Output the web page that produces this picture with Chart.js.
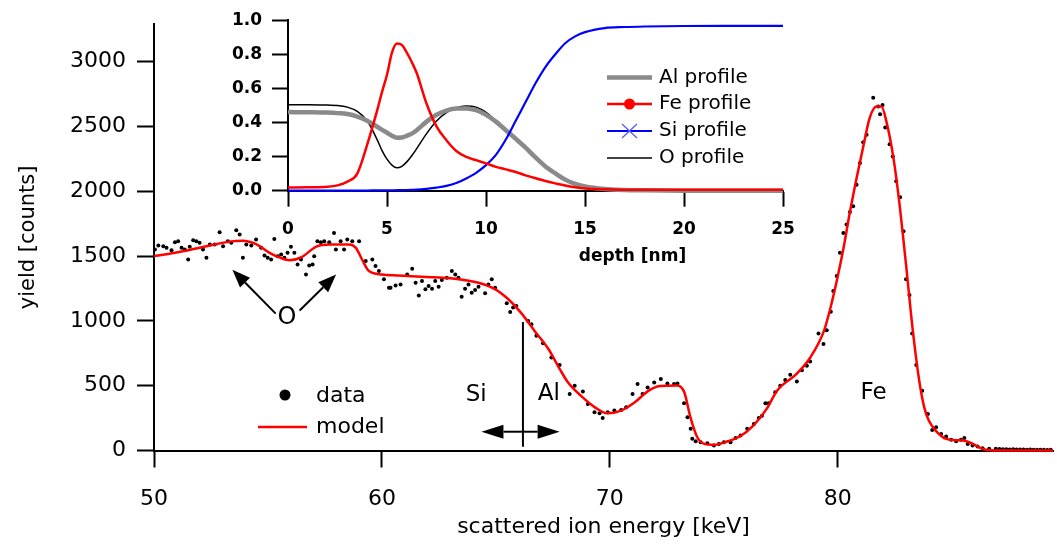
<!DOCTYPE html>
<html><head><meta charset="utf-8">
<script src="https://cdn.jsdelivr.net/npm/chart.js@4.4.1/dist/chart.umd.min.js"></script>
<style>
html,body{margin:0;padding:0;background:#fff;}
#wrap{position:relative;width:1057px;height:551px;}
canvas{position:absolute;left:0;top:0;}
</style></head><body>
<div id="wrap"><canvas id="main" width="1057" height="551"></canvas><canvas id="inset" width="1057" height="551"></canvas></div>
<script>
// ---------- main spectrum ----------
const xTicks = [50, 60, 70, 80];
const yTicks = [0, 500, 1000, 1500, 2000, 2500, 3000];

const dataE = [50.04,50.19,50.41,50.55,50.77,50.92,51.06,51.21,51.35,51.50,51.57,51.72,51.86,52.00,52.15,52.30,52.45,52.66,52.88,53.03,53.24,53.39,53.61,53.76,53.90,54.05,54.27,54.48,54.70,54.85,54.99,55.14,55.28,55.43,55.58,55.72,55.86,56.01,56.16,56.30,56.45,56.67,56.81,56.96,57.03,57.17,57.32,57.47,57.69,57.90,57.98,58.19,58.34,58.48,58.70,59.00,59.29,59.58,59.72,59.87,60.09,60.31,
60.38,60.60,60.82,61.11,61.33,61.48,61.62,61.76,61.91,62.05,62.20,62.34,62.49,62.63,62.85,63.07,63.22,63.36,63.50,63.65,63.80,63.94,64.09,64.24,64.53,64.67,64.82,64.97,65.48,65.63,65.76,65.90,66.42,66.56,66.78,67.07,67.44,67.80,
68.24,68.46,68.82,69.04,69.33,69.55,69.69,69.91,70.20,70.50,70.72,71.00,71.22,71.44,71.66,71.95,72.24,72.53,72.82,72.97,73.26,73.41,73.55,73.62,73.77,73.99,74.28,74.57,74.79,75.01,75.30,75.52,75.74,76.03,76.32,76.54,
76.68,76.83,76.97,77.26,77.48,77.70,77.92,78.21,78.43,78.65,78.79,79.16,79.38,79.52,79.70,79.81,79.96,80.10,80.25,80.39,80.54,80.68,80.83,80.98,81.12,81.27,81.56,81.78,81.86,81.97,82.09,82.28,82.42,82.57,82.74,82.89,83.00,83.15,83.27,
83.45,83.71,83.96,84.15,84.32,84.54,84.76,84.98,85.20,85.41,85.56,85.71,85.92,86.14,86.36,86.65,86.94,87.10,87.25,87.40,87.55,87.70,87.85,88.00,88.15,88.30,88.45,88.60,88.75,88.90,89.05,89.20,89.35];
const dataY = [1551,1582,1577,1564,1546,1608,1615,1564,1551,1474,1572,1623,1615,1603,1551,1487,1590,1590,1685,1577,1615,1603,1700,1667,1487,1590,1582,1628,1564,1505,1487,1474,1633,1500,1513,1487,1526,1572,1526,1436,1474,1359,1428,1436,1500,1615,1608,1615,1608,1679,1551,1615,1551,1628,1615,1615,1462,1474,1423,1385,1321,1256,
1256,1274,1282,1359,1403,1295,1197,1308,1244,1269,1249,1308,1264,1315,1333,1385,1359,1333,1187,1249,1282,1218,1238,1264,1213,1282,1321,1256,1136,1069,1103,1115,1000,974,885,828,718,659,
436,500,456,359,295,287,251,295,308,313,333,436,513,436,487,525,551,518,513,518,364,256,167,90,72,64,56,38,51,64,64,97,115,167,205,251,
269,364,364,449,500,544,585,533,620,654,687,902,821,928,1071,1231,1346,1526,1679,1744,1841,1885,2051,2218,2379,2436,2723,2654,2595,2667,2492,2364,2269,2077,1954,1692,1321,1200,902,
660,462,282,159,179,128,108,82,72,82,97,51,38,31,18,13,13,11,9,10,8,9,7,8,7,6,7,6,5,6,5,4,5];

const modelE = [50.0,50.55,51.27,52.45,53.3,53.9,54.5,55.07,55.5,55.94,56.5,57.1,57.7,58.56,58.86,59.13,59.43,60.0,60.74,61.75,63.2,64.24,64.98,65.55,66.1,66.7,67.3,67.8,68.17,68.73,69.35,69.9,70.5,71.1,71.66,72.2,72.97,73.27,73.54,73.84,74.15,74.6,75.15,75.7,76.3,76.9,77.34,78.2,78.8,79.4,79.65,79.96,80.26,80.52,80.83,81.14,81.4,81.7,81.92,82.14,82.45,82.7,83.0,83.3,83.58,83.8,84.0,84.3,84.76,85.2,85.65,85.94,86.2,86.5,87.0,89.45];
const modelY = [1500,1515,1538,1582,1612,1618,1590,1525,1490,1469,1495,1572,1590,1590,1564,1474,1385,1359,1351,1341,1326,1295,1244,1167,1064,923,785,630,525,423,333,287,308,372,456,497,502,449,256,102,51,44,69,108,192,325,462,592,718,923,1077,1308,1564,1823,2102,2359,2564,2654,2654,2538,2256,1923,1436,923,538,333,231,154,90,80,72,51,25,5,0,0];

// ---------- inset depth profiles ----------
const insetXTicks = [0, 5, 10, 15, 20, 25];
const insetYTicks = [0, 0.2, 0.4, 0.6, 0.8, 1.0];
const insetYTickLabels = ['0.0', '0.2', '0.4', '0.6', '0.8', '1.0'];
const depth = [0,1,2,2.5,3,3.5,4,4.5,4.75,5,5.25,5.5,5.75,6,6.25,6.5,7,7.5,8,8.5,9,9.5,10,10.5,11,11.5,12,12.5,13,13.5,14,14.5,15,16,17,18,20,22,25];
const alProfile = [0.461,0.46,0.458,0.455,0.45,0.435,0.41,0.375,0.357,0.34,0.322,0.311,0.312,0.322,0.335,0.355,0.405,0.445,0.47,0.482,0.482,0.472,0.445,0.405,0.355,0.305,0.252,0.195,0.142,0.102,0.065,0.04,0.025,0.01,0.004,0.002,0,0,0];
const feProfile = [0.019,0.02,0.023,0.031,0.053,0.1,0.27,0.47,0.58,0.68,0.81,0.864,0.855,0.81,0.755,0.69,0.51,0.377,0.296,0.233,0.198,0.179,0.16,0.14,0.125,0.11,0.09,0.073,0.057,0.043,0.03,0.02,0.013,0.008,0.006,0.005,0.005,0.005,0.005];
const siProfile = [0,0,0,0,0,0.001,0.001,0.002,0.002,0.002,0.002,0.003,0.003,0.004,0.005,0.006,0.011,0.018,0.028,0.045,0.072,0.105,0.15,0.21,0.3,0.41,0.52,0.63,0.725,0.8,0.865,0.905,0.93,0.954,0.96,0.963,0.966,0.967,0.967];
const oProfile = [0.504,0.504,0.502,0.5,0.49,0.465,0.41,0.3,0.235,0.185,0.15,0.134,0.143,0.169,0.205,0.247,0.335,0.409,0.458,0.487,0.497,0.49,0.46,0.41,0.357,0.307,0.254,0.197,0.144,0.104,0.067,0.042,0.027,0.012,0.005,0.003,0.001,0,0];

const FONT = 'DejaVu Sans';
Chart.defaults.font.family = FONT;
Chart.defaults.color = '#000';

function arrow(ctx, x1, y1, x2, y2, len, hw) {
  const a = Math.atan2(y2 - y1, x2 - x1);
  const bx = x2 - len * Math.cos(a), by = y2 - len * Math.sin(a);
  ctx.beginPath(); ctx.moveTo(x1, y1); ctx.lineTo(bx, by); ctx.stroke();
  ctx.beginPath(); ctx.moveTo(x2, y2);
  ctx.lineTo(bx + hw * Math.sin(a), by - hw * Math.cos(a));
  ctx.lineTo(bx - hw * Math.sin(a), by + hw * Math.cos(a));
  ctx.closePath(); ctx.fill();
}

const mainDecor = {
  id: 'mainDecor',
  afterDatasetsDraw(chart) {
    const {ctx, scales: {x, y}} = chart;
    const X = v => x.getPixelForValue(v), Y = v => y.getPixelForValue(v);
    ctx.save();
    ctx.fillStyle = '#000'; ctx.strokeStyle = '#000'; ctx.lineWidth = 2;
    ctx.font = '24px ' + FONT; ctx.textAlign = 'center'; ctx.textBaseline = 'middle';
    ctx.fillText('O', X(55.83), Y(1025));
    arrow(ctx, X(55.34), Y(1056), X(53.44), Y(1395), 18, 7);
    arrow(ctx, X(56.39), Y(1081), X(57.99), Y(1358), 18, 7);
    ctx.font = '23px ' + FONT;
    ctx.fillText('Si', X(64.14), Y(427));
    ctx.fillText('Al', X(67.33), Y(435));
    ctx.fillText('Fe', X(81.58), Y(442));
    ctx.beginPath(); ctx.moveTo(X(66.19), Y(991)); ctx.lineTo(X(66.19), Y(29)); ctx.stroke();
    const cx = X(66.19), yy = Y(145);
    arrow(ctx, cx, yy, X(64.37), yy, 22, 7);
    arrow(ctx, cx, yy, X(67.80), yy, 22, 7);
    ctx.restore();
  },
  afterDraw(chart) {
    const ctx = chart.ctx;
    ctx.save();
    ctx.fillStyle = '#000';
    ctx.beginPath(); ctx.arc(285, 395, 5.5, 0, Math.PI * 2); ctx.fill();
    ctx.strokeStyle = '#ff0000'; ctx.lineWidth = 2.5;
    ctx.beginPath(); ctx.moveTo(258, 427); ctx.lineTo(307, 427); ctx.stroke();
    ctx.font = '22px ' + FONT; ctx.textAlign = 'left'; ctx.textBaseline = 'middle';
    ctx.fillText('data', 316, 396);
    ctx.fillText('model', 316, 427);
    ctx.restore();
  }
};

new Chart(document.getElementById('main'), {
  type: 'scatter',
  data: {
    datasets: [
      {label: 'model', data: modelE.map((e, i) => ({x: e, y: modelY[i]})), showLine: true,
       borderColor: '#ff0000', borderWidth: 2.5, pointRadius: 0, cubicInterpolationMode: 'monotone', clip: false, order: 0},
      {label: 'data', data: dataE.map((e, i) => ({x: e, y: dataY[i]})), showLine: false,
       backgroundColor: '#000', borderColor: '#000', borderWidth: 0, pointRadius: 2, clip: false, order: 1}
    ]
  },
  options: {
    responsive: false, animation: false, devicePixelRatio: 1,
    layout: {padding: {left: 0, right: 0, top: 22.7, bottom: 0}},
    plugins: {legend: {display: false}, tooltip: {enabled: false}},
    scales: {
      x: {
        type: 'linear', min: 50, max: 89.45,
        afterBuildTicks: s => { s.ticks = xTicks.map(v => ({value: v})); },
        afterFit: s => { s.height = 100.5; },
        ticks: {font: {size: 22}, padding: 19, maxRotation: 0, autoSkip: false, callback: v => String(v)},
        grid: {drawOnChartArea: false, drawTicks: true, tickLength: 17, tickWidth: 2, tickColor: '#000'},
        border: {display: true, color: '#000', width: 2},
        title: {display: true, text: 'scattered ion energy [keV]', font: {size: 22}, padding: {top: 0, bottom: 10.8}}
      },
      y: {
        type: 'linear', min: 0, max: 3290,
        afterBuildTicks: s => { s.ticks = yTicks.map(v => ({value: v})); },
        afterFit: s => { s.width = 154; },
        ticks: {font: {size: 22}, padding: 11, autoSkip: false, callback: v => String(v)},
        grid: {drawOnChartArea: false, drawTicks: true, tickLength: 17, tickWidth: 2, tickColor: '#000'},
        border: {display: true, color: '#000', width: 2},
        title: {display: true, text: 'yield [counts]', font: {size: 21}, padding: {top: 16.4, bottom: 0}}
      }
    }
  },
  plugins: [mainDecor]
});

const insetDecor = {
  id: 'insetDecor',
  afterDraw(chart) {
    const ctx = chart.ctx;
    const {x} = chart.scales;
    ctx.save();
    ctx.fillStyle = '#000';
    ctx.font = 'bold 17px ' + FONT; ctx.textAlign = 'center'; ctx.textBaseline = 'middle';
    ctx.fillText('depth [nm]', x.getPixelForValue(17.4), 257);
    const rowY = [77.5, 104, 131, 158];
    chart.data.datasets.forEach((ds, i) => {
      const yy = rowY[i];
      ctx.strokeStyle = ds.borderColor; ctx.lineWidth = ds.borderWidth;
      ctx.beginPath(); ctx.moveTo(607, yy); ctx.lineTo(652, yy); ctx.stroke();
      if (ds.legendMarker === 'circle') {
        ctx.fillStyle = ds.borderColor;
        ctx.beginPath(); ctx.arc(629.5, yy, 5.5, 0, Math.PI * 2); ctx.fill();
      } else if (ds.legendMarker === 'cross') {
        ctx.strokeStyle = '#5a5aff'; ctx.lineWidth = 1.3;
        ctx.beginPath();
        ctx.moveTo(622, yy - 7); ctx.lineTo(637, yy + 7);
        ctx.moveTo(637, yy - 7); ctx.lineTo(622, yy + 7);
        ctx.stroke();
      }
      ctx.fillStyle = '#000';
      ctx.font = '20px ' + FONT; ctx.textAlign = 'left'; ctx.textBaseline = 'middle';
      ctx.fillText(ds.label, 659, yy);
    });
    ctx.restore();
  }
};

const prof = arr => depth.map((d, i) => ({x: d, y: arr[i]}));
new Chart(document.getElementById('inset'), {
  type: 'scatter',
  data: {
    datasets: [
      {label: 'Al profile', data: prof(alProfile), showLine: true, borderColor: '#8a8a8a', borderWidth: 4.5,
       pointRadius: 0, cubicInterpolationMode: 'monotone', clip: false, order: 3},
      {label: 'Fe profile', data: prof(feProfile), showLine: true, borderColor: '#ff0000', borderWidth: 2.5,
       pointRadius: 0, cubicInterpolationMode: 'monotone', clip: false, order: 1, legendMarker: 'circle'},
      {label: 'Si profile', data: prof(siProfile), showLine: true, borderColor: '#0000ff', borderWidth: 2.2,
       pointRadius: 0, cubicInterpolationMode: 'monotone', clip: false, order: 2, legendMarker: 'cross'},
      {label: 'O profile', data: prof(oProfile), showLine: true, borderColor: '#000000', borderWidth: 1.5,
       pointRadius: 0, cubicInterpolationMode: 'monotone', clip: false, order: 4}
    ]
  },
  options: {
    responsive: false, animation: false, devicePixelRatio: 1,
    layout: {padding: {left: 200, right: 274, top: 19.5, bottom: 300.3}},
    plugins: {legend: {display: false}, tooltip: {enabled: false}},
    scales: {
      x: {
        type: 'linear', min: 0, max: 25,
        afterBuildTicks: s => { s.ticks = insetXTicks.map(v => ({value: v})); },
        afterFit: s => { s.height = 60; },
        ticks: {font: {size: 17, weight: 'bold'}, padding: 13, maxRotation: 0, autoSkip: false, callback: v => String(v)},
        grid: {drawOnChartArea: false, drawTicks: true, tickLength: 16, tickWidth: 2, tickColor: '#000'},
        border: {display: true, color: '#000', width: 2}
      },
      y: {
        type: 'linear', min: 0, max: 1,
        afterBuildTicks: s => { s.ticks = insetYTicks.map(v => ({value: v})); },
        afterFit: s => { s.width = 88; },
        ticks: {font: {size: 17, weight: 'bold'}, padding: 10, autoSkip: false,
                callback: (v, i) => insetYTickLabels[i]},
        grid: {drawOnChartArea: false, drawTicks: true, tickLength: 16, tickWidth: 2, tickColor: '#000'},
        border: {display: true, color: '#000', width: 2}
      }
    }
  },
  plugins: [insetDecor]
});
</script>
</body></html>
